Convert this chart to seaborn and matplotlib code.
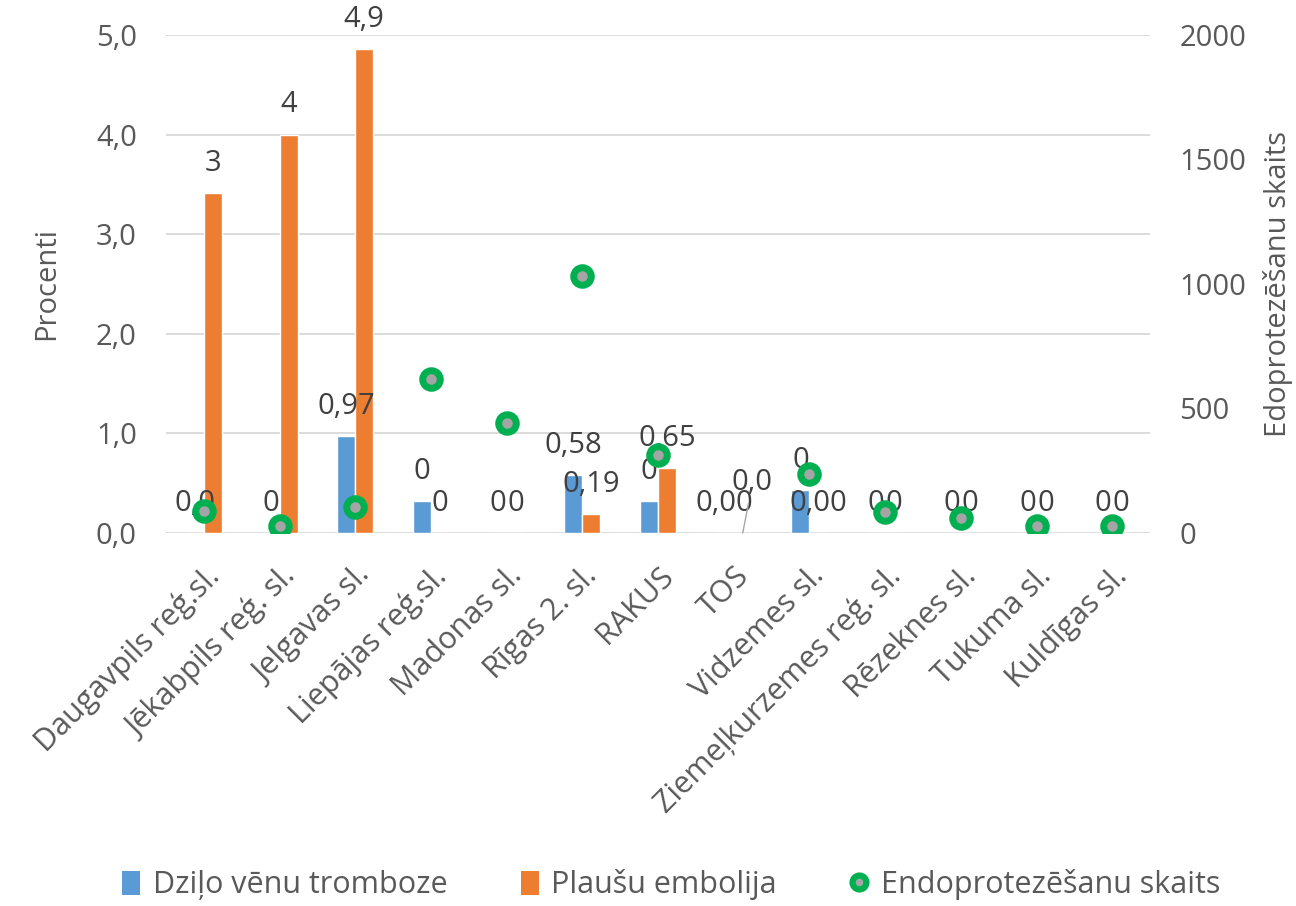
import numpy as np
import pandas as pd
import matplotlib
matplotlib.use("Agg")
import matplotlib.pyplot as plt
from matplotlib.lines import Line2D
from matplotlib.patches import Patch
from matplotlib.ticker import FixedLocator, FuncFormatter
import seaborn as sns

# --- data -------------------------------------------------------------
hospitals = [
    "Daugavpils reģ.sl.", "Jēkabpils reģ. sl.", "Jelgavas sl.", "Liepājas reģ.sl.",
    "Madonas sl.", "Rīgas 2. sl.", "RAKUS", "TOS", "Vidzemes sl.",
    "Ziemeļkurzemes reģ. sl.", "Rēzeknes sl.", "Tukuma sl.", "Kuldīgas sl.",
]
dvt_pct = [0.0, 0.0, 0.97, 0.32, 0.0, 0.58, 0.32, 0.0, 0.43, 0.0, 0.0, 0.0, 0.0]
pe_pct = [3.41, 4.0, 4.86, 0.0, 0.0, 0.19, 0.65, 0.0, 0.0, 0.0, 0.0, 0.0, 0.0]
surgeries = [88, 28, 104, 618, 442, 1032, 313, np.nan, 237, 84, 60, 28, 28]

dvt_labels = ["0,0", "0", "0,97", "0", "0", "0,58", "0", "0,00", "0", "0", "0", "0", "0"]
pe_labels = ["3", "4", "4,9", "0", "0", "0,19", "0,65", "0,0", "0,00", "0", "0", "0", "0"]

series_dvt = "Dziļo vēnu tromboze"
series_pe = "Plaušu embolija"
series_cnt = "Endoprotezēšanu skaits"

# --- style ------------------------------------------------------------
BLUE = "#5B9BD5"
ORANGE = "#ED7D31"
GREEN = "#00B050"
DOT = "#A5A5A5"
GRID = "#D9D9D9"
TXT = "#595959"
LBL = "#404040"
FS = 21
FS_CAT = 22

sns.set_theme(style="white")
plt.rcParams["font.family"] = ["Open Sans", "DejaVu Sans"]

df = pd.DataFrame({
    "hospital": hospitals * 2,
    "series": [series_dvt] * len(hospitals) + [series_pe] * len(hospitals),
    "value": dvt_pct + pe_pct,
})

fig = plt.figure(figsize=(12.96, 9.06), dpi=100)
ax = fig.add_axes([0.1281, 0.4117, 0.7593, 0.5497])

sns.barplot(data=df, x="hospital", y="value", hue="series",
            palette=[BLUE, ORANGE], width=0.475, gap=0, saturation=1,
            errorbar=None, legend=False, ax=ax, zorder=2)

ax.set_ylim(0, 5)
ax.set_xlim(-0.5, len(hospitals) - 0.5)
ax.yaxis.set_major_locator(FixedLocator([0, 1, 2, 3, 4, 5]))
ax.yaxis.set_major_formatter(FuncFormatter(lambda v, p: f"{v:.1f}".replace(".", ",")))
ax.grid(axis="y", color=GRID, linewidth=1.3, zorder=0)
ax.set_axisbelow(True)
for s in ax.spines.values():
    s.set_visible(False)
ax.tick_params(axis="y", length=0, labelsize=FS, labelcolor=TXT, pad=21)
ax.tick_params(axis="x", length=0, labelsize=FS_CAT, labelcolor=TXT, pad=20)
ax.set_xlabel("")
ax.set_ylabel("Procenti", fontsize=FS, color=TXT, labelpad=25)
ax.set_xticks(range(len(hospitals)))
ax.set_xticklabels(hospitals, rotation=45, ha="right", rotation_mode="anchor")

# value labels over bars
special = {(1, 7): (7, 36)}  # TOS embolism label with leader line
for si, (cont, labels) in enumerate(zip(ax.containers, [dvt_labels, pe_labels])):
    for i, (bar, lab) in enumerate(zip(cont, labels)):
        xc = bar.get_x() + bar.get_width() / 2
        h = bar.get_height()
        if (si, i) in special:
            dx, dy = special[(si, i)]
            ax.annotate(lab, (xc, h), xytext=(dx, dy), textcoords="offset points",
                        ha="center", va="center", fontsize=FS, color=LBL,
                        arrowprops=dict(arrowstyle="-", color="#A6A6A6", lw=1,
                                        shrinkA=2, shrinkB=0), zorder=5)
        else:
            ax.annotate(lab, (xc, h), xytext=(0, 21.5), textcoords="offset points",
                        ha="center", va="center", fontsize=FS, color=LBL, zorder=5)

# secondary axis: number of joint replacements
ax2 = ax.twinx()
sns.scatterplot(x=np.arange(len(hospitals)), y=surgeries, ax=ax2, s=160,
                color=DOT, edgecolor=GREEN, linewidth=5, zorder=6, legend=False)
ax2.set_ylim(0, 2000)
ax2.yaxis.set_major_locator(FixedLocator([0, 500, 1000, 1500, 2000]))
ax2.grid(False)
for s in ax2.spines.values():
    s.set_visible(False)
ax2.tick_params(axis="y", length=0, labelsize=FS, labelcolor=TXT, pad=21)
ax2.set_ylabel("Edoprotezēšanu skaits", fontsize=FS, color=TXT, labelpad=12)

handles = [
    Patch(facecolor=BLUE, edgecolor="none"),
    Patch(facecolor=ORANGE, edgecolor="none"),
    Line2D([], [], linestyle="none", marker="o", markersize=10,
           markerfacecolor=DOT, markeredgecolor=GREEN, markeredgewidth=4.5),
]
leg = fig.legend(handles, [series_dvt, series_pe, series_cnt],
                 loc="center", bbox_to_anchor=(671 / 1296, 1 - 885 / 906),
                 ncol=3, frameon=False, fontsize=FS_CAT, labelcolor=TXT,
                 handlelength=0.6, handleheight=0.85, handletextpad=0.4,
                 columnspacing=2.4)

fig.savefig("out.png", dpi=100)
